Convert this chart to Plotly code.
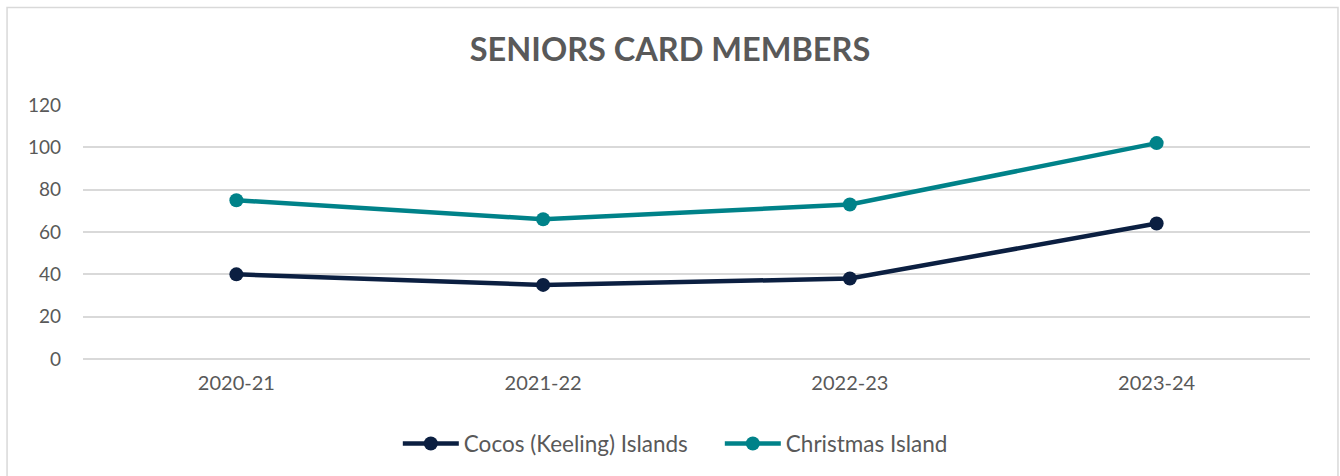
import plotly.graph_objects as go

categories = ["2020-21", "2021-22", "2022-23", "2023-24"]
cocos = [40, 35, 38, 64]
christmas = [75, 66, 73, 102]
y_ticks = [0, 20, 40, 60, 80, 100, 120]

FONT = "Lato"
GRAY = "#595959"

fig = go.Figure()
fig.add_trace(go.Scatter(
    x=categories, y=cocos, name="Cocos (Keeling) Islands", mode="lines+markers",
    line=dict(color="#0B1F41", width=4.5), marker=dict(size=14, color="#0B1F41")))
fig.add_trace(go.Scatter(
    x=categories, y=christmas, name="Christmas Island", mode="lines+markers",
    line=dict(color="#008289", width=4.5), marker=dict(size=14, color="#008289")))

fig.update_layout(
    width=1340, height=476,
    margin=dict(l=83, r=30, t=105, b=116),
    paper_bgcolor="white", plot_bgcolor="white",
    title=dict(text="<b>SENIORS CARD MEMBERS</b>", x=0.5, xanchor="center",
               y=0.895, yanchor="middle",
               font=dict(family=FONT, size=32.5, color=GRAY)),
    font=dict(family=FONT, size=19, color=GRAY),
    legend=dict(orientation="h", x=0.519, xanchor="center", y=-0.329, yanchor="middle",
                font=dict(family=FONT, size=22.5, color=GRAY), itemwidth=56,
                entrywidth=251),
    showlegend=True,
    xaxis=dict(type="category", range=[-0.5, 3.5], showgrid=False, zeroline=False,
               showline=False, ticks="", ticklabelstandoff=10,
               tickfont=dict(family=FONT, size=20, color=GRAY)),
    yaxis=dict(range=[0, 120], tickvals=y_ticks, showgrid=True, gridcolor="#D9D9D9",
               gridwidth=1.5, zeroline=True, zerolinecolor="#D9D9D9", zerolinewidth=1.5,
               showline=False, ticks="", ticklabelstandoff=21,
               tickfont=dict(family=FONT, size=19, color=GRAY)),
)
fig.add_shape(type="rect", xref="paper", yref="paper",
              x0=-0.0619, x1=1.0228, y0=-0.5, y1=1.384,
              line=dict(color="#D9D9D9", width=1.5), fillcolor="rgba(0,0,0,0)", layer="below")
fig.write_html("out.html")
